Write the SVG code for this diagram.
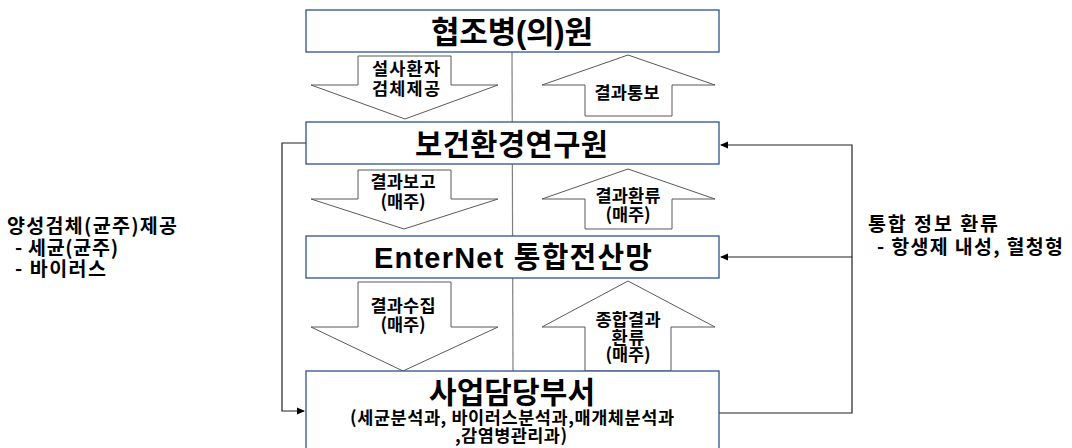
<svg xmlns="http://www.w3.org/2000/svg" width="1072" height="448" viewBox="0 0 1072 448">
<style>
.box{fill:#fff;stroke:#2f528f;stroke-width:1.3}
.arr{fill:#fff;stroke:#595959;stroke-width:1}
.con{fill:none;stroke:#222;stroke-width:1.2}
.t{font-family:"Liberation Sans","Noto Sans CJK KR",sans-serif;font-weight:bold;fill:#000;text-anchor:middle}
.s{font-family:"Noto Sans CJK KR",sans-serif;font-weight:bold;fill:#000;font-size:17.5px;text-anchor:middle}
.side{font-family:"Noto Sans CJK KR",sans-serif;font-weight:bold;fill:#000;font-size:19.5px}
</style>
<defs>
<marker id="ah" markerWidth="8" markerHeight="8" refX="7" refY="4" orient="auto" markerUnits="userSpaceOnUse">
<path d="M0,0.5 L8,4 L0,7.5 z" fill="#000"/>
</marker>
</defs>
<rect width="1072" height="448" fill="#fff"/>
<g id="connectors">
<line x1="512" y1="52" x2="513" y2="371" stroke="#7f7f7f" stroke-width="1.2"/>
<path class="con" d="M306,143 H282 V411 H304" marker-end="url(#ah)"/>
<path class="con" d="M719,413 H852 V145 H721" marker-end="url(#ah)"/>
<path class="con" d="M852,257 H721" marker-end="url(#ah)"/>
</g>
<g id="arrows">
<g id="a1"><polygon class="arr" points="358,56 451,56 451,85 498,85 405,119 311,85 358,85"/>
<text class="s" x="406" y="75" textLength="68">설사환자</text>
<text class="s" x="406" y="95" textLength="68">검체제공</text></g>
<g id="a2"><polygon class="arr" points="628,55 715,85 672,85 672,116 585,116 585,85 542,85"/>
<text class="s" x="627" y="99" textLength="65">결과통보</text></g>
<g id="a3"><polygon class="arr" points="358,170 451,170 451,199 498,199 404,229 311,199 358,199"/>
<text class="s" x="403" y="188" textLength="65">결과보고</text>
<text class="s" x="403" y="208" textLength="45">(매주)</text></g>
<g id="a4"><polygon class="arr" points="628,169 715,199 672,199 672,229 585,229 585,199 542,199"/>
<text class="s" x="628" y="202" textLength="65">결과환류</text>
<text class="s" x="628" y="221" textLength="45">(매주)</text></g>
<g id="a5"><polygon class="arr" points="358,282 451,282 451,327 498,327 403,371 311,327 358,327"/>
<text class="s" x="403" y="312" textLength="65">결과수집</text>
<text class="s" x="403" y="331" textLength="45">(매주)</text></g>
<g id="a6"><polygon class="arr" points="628,281 715,327 671,327 671,371 585,371 585,327 542,327"/>
<text class="s" x="628" y="326" textLength="65">종합결과</text>
<text class="s" x="628" y="344" textLength="33">환류</text>
<text class="s" x="628" y="361" textLength="45">(매주)</text></g>
</g>
<g id="n1"><rect class="box" x="306" y="10" width="413" height="42"/>
<text class="t" x="512" y="43" font-size="31" textLength="162">협조병(의)원</text></g>
<g id="n2"><rect class="box" x="306" y="122" width="413" height="42"/>
<text class="t" x="511.5" y="155" font-size="29.5" textLength="193">보건환경연구원</text></g>
<g id="n3"><rect class="box" x="306" y="236" width="413" height="42"/>
<text class="t" x="513" y="268" font-size="29" textLength="278">EnterNet 통합전산망</text></g>
<g id="n4"><rect class="box" x="306" y="371" width="413" height="82"/>
<text class="t" x="512" y="403" font-size="30" textLength="166">사업담당부서</text>
<text class="s" x="512" y="424" font-size="17.5" textLength="324">(세균분석과, 바이러스분석과,매개체분석과</text>
<text class="s" x="511" y="442" font-size="17.5" textLength="112">,감염병관리과)</text></g>
<g id="left-label">
<text class="side" x="7" y="233" textLength="170">양성검체(균주)제공</text>
<text class="side" x="15" y="255" textLength="103">- 세균(균주)</text>
<text class="side" x="15" y="276" textLength="91">- 바이러스</text>
</g>
<g id="right-label">
<text class="side" x="868" y="231" textLength="130">통합 정보 환류</text>
<text class="side" x="877" y="254" textLength="186">- 항생제 내성, 혈청형</text>
</g>
</svg>
